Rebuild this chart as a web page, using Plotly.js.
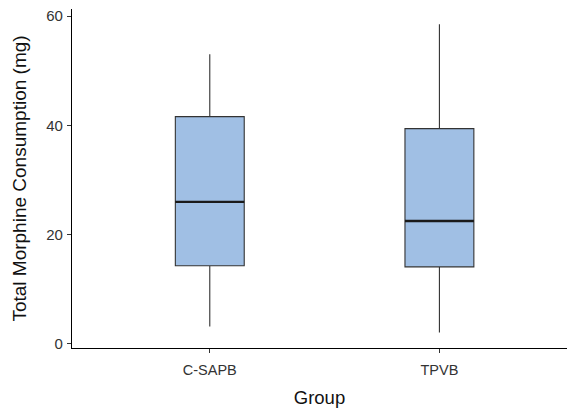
<!DOCTYPE html>
<html><head><meta charset="utf-8">
<script src="https://cdn.plot.ly/plotly-3.0.1.min.js"></script>
<style>html,body{margin:0;padding:0;background:#fff}</style>
</head><body><div id="chart" style="width:567px;height:408px"></div>
<script>
const groups = ["C-SAPB", "TPVB"];
const lowerWhisker = [3.2, 2.1];
const q1 = [14.3, 14.1];
const median = [26.0, 22.5];
const q3 = [41.6, 39.4];
const upperWhisker = [53.0, 58.5];
const yTicks = [0, 20, 40, 60];

const boxW = 0.3;
const trace = {
  type: "box",
  x: groups,
  q1: q1, median: median, q3: q3,
  lowerfence: lowerWhisker, upperfence: upperWhisker,
  fillcolor: "#A0BFE4",
  line: {color: "#333333", width: 1.1},
  whiskerwidth: 0,
  width: boxW,
  boxpoints: false,
  hoverinfo: "none",
  showlegend: false
};
const shapes = median.map((m, i) => ({
  type: "line", xref: "x", yref: "y",
  x0: i - boxW / 2, x1: i + boxW / 2, y0: m, y1: m,
  line: {color: "#1a1a1a", width: 2.4}
}));
const layout = {
  width: 567, height: 408,
  margin: {l: 72, r: 0, t: 9, b: 60},
  paper_bgcolor: "#fff", plot_bgcolor: "#fff",
  font: {family: "Liberation Sans, Arial, sans-serif", color: "#000"},
  xaxis: {
    type: "category", categoryorder: "array", categoryarray: groups,
    range: [-0.6, 1.5556],
    showline: true, linecolor: "#000", linewidth: 1.1,
    ticks: "outside", ticklen: 4, tickcolor: "#333", tickwidth: 1.1,
    tickfont: {size: 14.5, color: "#333"},
    ticklabelstandoff: 4,
    showgrid: false, zeroline: false,
    title: {text: "Group", font: {size: 18.5, color: "#111"}, standoff: 14}
  },
  yaxis: {
    range: [-0.75, 61.3],
    tickvals: yTicks, ticktext: yTicks.map(String),
    showline: true, linecolor: "#000", linewidth: 1.1,
    ticks: "outside", ticklen: 4, tickcolor: "#333", tickwidth: 1.1,
    tickfont: {size: 15, color: "#333"},
    ticklabelstandoff: 1,
    showgrid: false, zeroline: false,
    title: {text: "Total Morphine Consumption (mg)", font: {size: 19, color: "#111"}, standoff: 14}
  },
  shapes: shapes
};
Plotly.newPlot("chart", [trace], layout, {displayModeBar: false, staticPlot: true});
</script></body></html>
